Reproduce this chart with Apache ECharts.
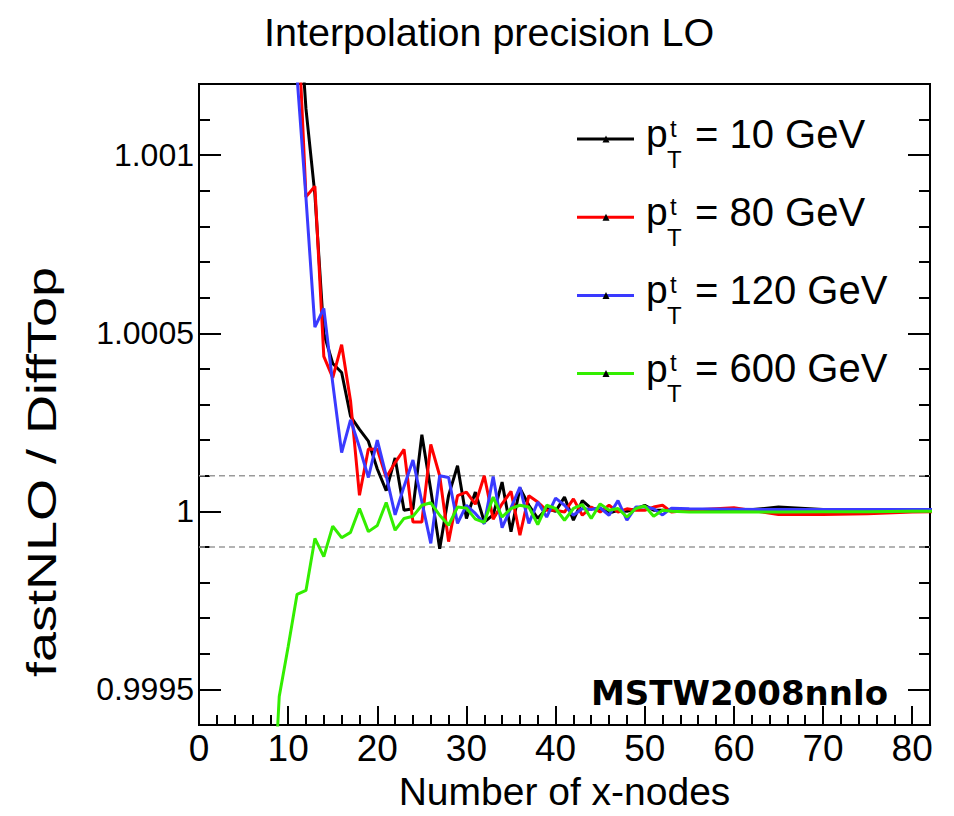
<!DOCTYPE html>
<html>
<head>
<meta charset="utf-8">
<script src="https://cdn.jsdelivr.net/npm/echarts@6/dist/echarts.min.js"></script>
<style>
html,body{margin:0;padding:0;background:#fff;overflow:hidden;}
#chart{width:954px;height:816px;}
</style>
</head>
<body>
<div id="chart"></div>
<script>
// ---- data ----
const xNodes = [8,9,10,11,12,13,14,15,16,17,18,19,20,21,22,23,24,25,26,27,28,29,30,
  31,32,33,34,35,36,37,38,39,40,41,42,43,44,45,46,47,48,49,50,51,52,53,55,60,65,70,75,80,85];

const ptLabels = ['p_T = 10 GeV','p_T = 80 GeV','p_T = 120 GeV','p_T = 600 GeV'];
const ptValues = ['10','80','120','600'];

const ratio10 = [null,null,1.0024,1.0015,1.00113,1.00089,1.0005,1.000415,1.00039,1.000267,1.00023,1.000197,1.000119,
  1.000058,1.00015,1.000003,1.000007,1.000215,1.00006,0.999895,1.000045,1.000128,0.99998,
  1.000054,0.99997,0.99999,1.000082,0.999943,1.000065,1.000017,0.99998,1.000008,1.0,
  1.00004,0.999975,1.00003,1.000008,1.000008,0.999995,1.000003,1.0,1.000007,1.000017,1.000003,1.000003,
  1.000002,1.0,1.0,1.000012,1.000005,1.000004,1.000003,1.000003];

const ratio80 = [null,null,1.0022,1.00144,1.000883,1.000913,1.000435,1.000375,1.000468,1.00031,1.000045,1.000175,1.000174,
  1.000095,1.000137,1.000174,0.99997,0.99997,1.000188,1.0001,0.999915,1.000044,1.000054,
  1.00002,1.0001,0.999978,1.000021,1.000056,0.999933,1.000044,1.000026,1.000003,1.000003,
  0.999998,1.000035,0.999989,1.000012,0.999998,1.000017,0.999998,1.000007,1.000003,1.000003,1.000012,1.000017,
  0.999998,1.000003,1.00001,0.999991,0.999991,0.999993,0.999998,1.0];

const ratio120 = [null,null,1.002,1.00122,1.00088,1.000517,1.00057,1.00036,1.000165,1.000257,1.00018,1.000095,1.0002,
  1.0001,0.99999,1.00007,1.000144,1.000027,0.99991,1.0001,1.000095,0.999966,1.000017,
  0.999994,0.999965,1.000098,0.999954,1.00001,1.000068,0.999966,1.000026,0.999984,1.000037,
  1.000017,0.999989,1.000008,1.000005,1.00001,0.999989,1.00003,0.999975,1.000012,1.000012,1.000007,0.99999,
  1.000009,1.000007,1.000006,1.000005,1.000005,1.000005,1.000005,1.000005];

const ratio600 = [0.999,0.99948,0.99962,0.999767,0.999778,0.999924,0.999873,0.999958,0.999926,0.999941,1.000008,0.999943,0.99996,
  1.000025,0.999947,0.99998,0.999986,1.000017,1.000024,0.999989,0.999961,1.000012,1.000009,
  0.999978,0.999969,1.00004,0.999984,1.000008,1.000017,1.000012,0.999963,1.000017,1.000008,
  0.999975,1.000008,1.000019,0.99998,1.000021,1.000003,1.000008,0.999984,1.000008,1.000015,0.999986,1.000003,
  1.0,0.999998,0.999999,0.999998,0.999999,0.999999,1.0,1.0];

const refLines = [1.0001, 0.9999];
const xRange = [0, 82];

const xMajorTicks = [0,10,20,30,40,50,60,70,80];
const xMinorTicks = [2,4,6,8,12,14,16,18,22,24,26,28,32,34,36,38,42,44,46,48,52,54,56,58,62,64,66,68,72,74,76,78];
const yMajorTicks = [0.9995, 1, 1.0005, 1.001];
const yMajorLabels = ['0.9995', '1', '1.0005', '1.001'];
const yMinorTicks = [0.9996,0.9997,0.9998,0.9999,1.0001,1.0002,1.0003,1.0004,1.0006,1.0007,1.0008,1.0009,1.0011];

const colors = ['#000000', '#ff0000', '#3a3aff', '#33ee00'];
const allRatios = [ratio10, ratio80, ratio120, ratio600];

// ---- chart ----
const chart = echarts.init(document.getElementById('chart'), null, {renderer: 'svg'});
const FONT = 'Liberation Sans, Arial, Helvetica, sans-serif';

function yLabel(v) {
  for (let i = 0; i < yMajorTicks.length; i++) {
    if (Math.abs(v - yMajorTicks[i]) < 1e-9) return yMajorLabels[i];
  }
  return '';
}

const Y_MIN = 0.9994, Y_MAX = 1.0012;

function yAxisDef(position, ticks, len, withLine, withLabel) {
  return {
    type: 'value', position: position, min: Y_MIN, max: Y_MAX,
    axisLine: {show: withLine, onZero: false, lineStyle: {color: '#000', width: 2}},
    axisTick: {show: true, inside: true, length: len, customValues: ticks, lineStyle: {color: '#000', width: 2}},
    axisLabel: withLabel ? {show: true, customValues: yMajorTicks, formatter: yLabel, color: '#000',
      fontFamily: FONT, fontSize: 32, margin: 5} : {show: false},
    splitLine: {show: false}
  };
}

const series = [];
refLines.forEach(v => {
  series.push({
    type: 'line', silent: true, symbol: 'none', z: 1,
    data: [[xRange[0], v], [xRange[1], v]],
    lineStyle: {color: '#9a9a9a', type: [6, 4], width: 1.5}
  });
});
allRatios.forEach((vals, i) => {
  series.push({
    type: 'line',
    name: ptLabels[i],
    data: xNodes.map((x, k) => [x, vals[k]]),
    showSymbol: false,
    symbol: 'none',
    clip: true,
    lineStyle: {color: colors[i], width: 3},
    itemStyle: {color: colors[i]},
    z: 3 + i
  });
});

// custom legend graphics
const legendGraphics = [];
const legendTop = 139, legendStep = 78.2;
for (let i = 0; i < 4; i++) {
  const y0 = legendTop + legendStep * i;
  legendGraphics.push({type: 'line', shape: {x1: 577, y1: y0, x2: 634, y2: y0}, style: {stroke: colors[i], lineWidth: 3}});
  legendGraphics.push({type: 'polygon', shape: {points: [[602.5, y0 + 3.5], [609.5, y0 + 3.5], [606, y0 - 3.5]]}, style: {fill: '#000'}});
  legendGraphics.push({type: 'text', x: 646, y: y0 - 5.5, style: {text: 'p', font: '39px ' + FONT, fill: '#000', verticalAlign: 'middle', align: 'left'}});
  legendGraphics.push({type: 'text', x: 670, y: y0 - 11, style: {text: 't', font: '24px ' + FONT, fill: '#000', verticalAlign: 'middle', align: 'left'}});
  legendGraphics.push({type: 'text', x: 667, y: y0 + 20, style: {text: 'T', font: '24px ' + FONT, fill: '#000', verticalAlign: 'middle', align: 'left'}});
  legendGraphics.push({type: 'text', x: 695, y: y0 - 5.5, style: {text: '= ' + ptValues[i] + ' GeV', font: '40px ' + FONT, fill: '#000', verticalAlign: 'middle', align: 'left'}});
}

const option = {
  animation: false,
  backgroundColor: '#ffffff',
  title: {
    text: 'Interpolation precision LO', left: 259, top: 7,
    textStyle: {fontFamily: FONT, fontSize: 39.5, fontWeight: 'normal', color: '#000'}
  },
  grid: {left: 199, right: 24, top: 84, bottom: 84, show: true, borderColor: '#000', borderWidth: 2, backgroundColor: 'transparent'},
  xAxis: [
    {
      type: 'value', position: 'bottom', min: xRange[0], max: xRange[1],
      axisLine: {show: true, onZero: false, lineStyle: {color: '#000', width: 2}},
      axisTick: {show: true, inside: true, length: 19, customValues: xMajorTicks, lineStyle: {color: '#000', width: 2}},
      axisLabel: {show: true, customValues: xMajorTicks, color: '#000', fontFamily: FONT, fontSize: 37, margin: 5},
      splitLine: {show: false},
      name: 'Number of x-nodes', nameLocation: 'middle', nameGap: 47,
      nameTextStyle: {fontFamily: FONT, fontSize: 39, color: '#000'}
    },
    {
      type: 'value', position: 'bottom', min: xRange[0], max: xRange[1],
      axisLine: {show: false, onZero: false},
      axisTick: {show: true, inside: true, length: 10, customValues: xMinorTicks, lineStyle: {color: '#000', width: 2}},
      axisLabel: {show: false},
      splitLine: {show: false}
    }
  ],
  yAxis: [
    yAxisDef('left', yMajorTicks, 22, true, true),
    yAxisDef('left', yMinorTicks, 11, false, false),
    yAxisDef('right', yMajorTicks, 22, true, false),
    yAxisDef('right', yMinorTicks, 11, false, false)
  ],
  series: series,
  graphic: [
    {type: 'text', x: 42, y: 472, rotation: Math.PI / 2, scaleX: 1.35,
      style: {text: 'fastNLO / DiffTop', font: '40px ' + FONT, fill: '#000', align: 'center', verticalAlign: 'middle'}},
    {type: 'text', x: 888, y: 693,
      style: {text: 'MSTW2008nnlo', font: 'bold 34px DejaVu Sans, Verdana, sans-serif', fill: '#000', align: 'right', verticalAlign: 'middle'}}
  ].concat(legendGraphics)
};
chart.setOption(option);
</script>
</body>
</html>
